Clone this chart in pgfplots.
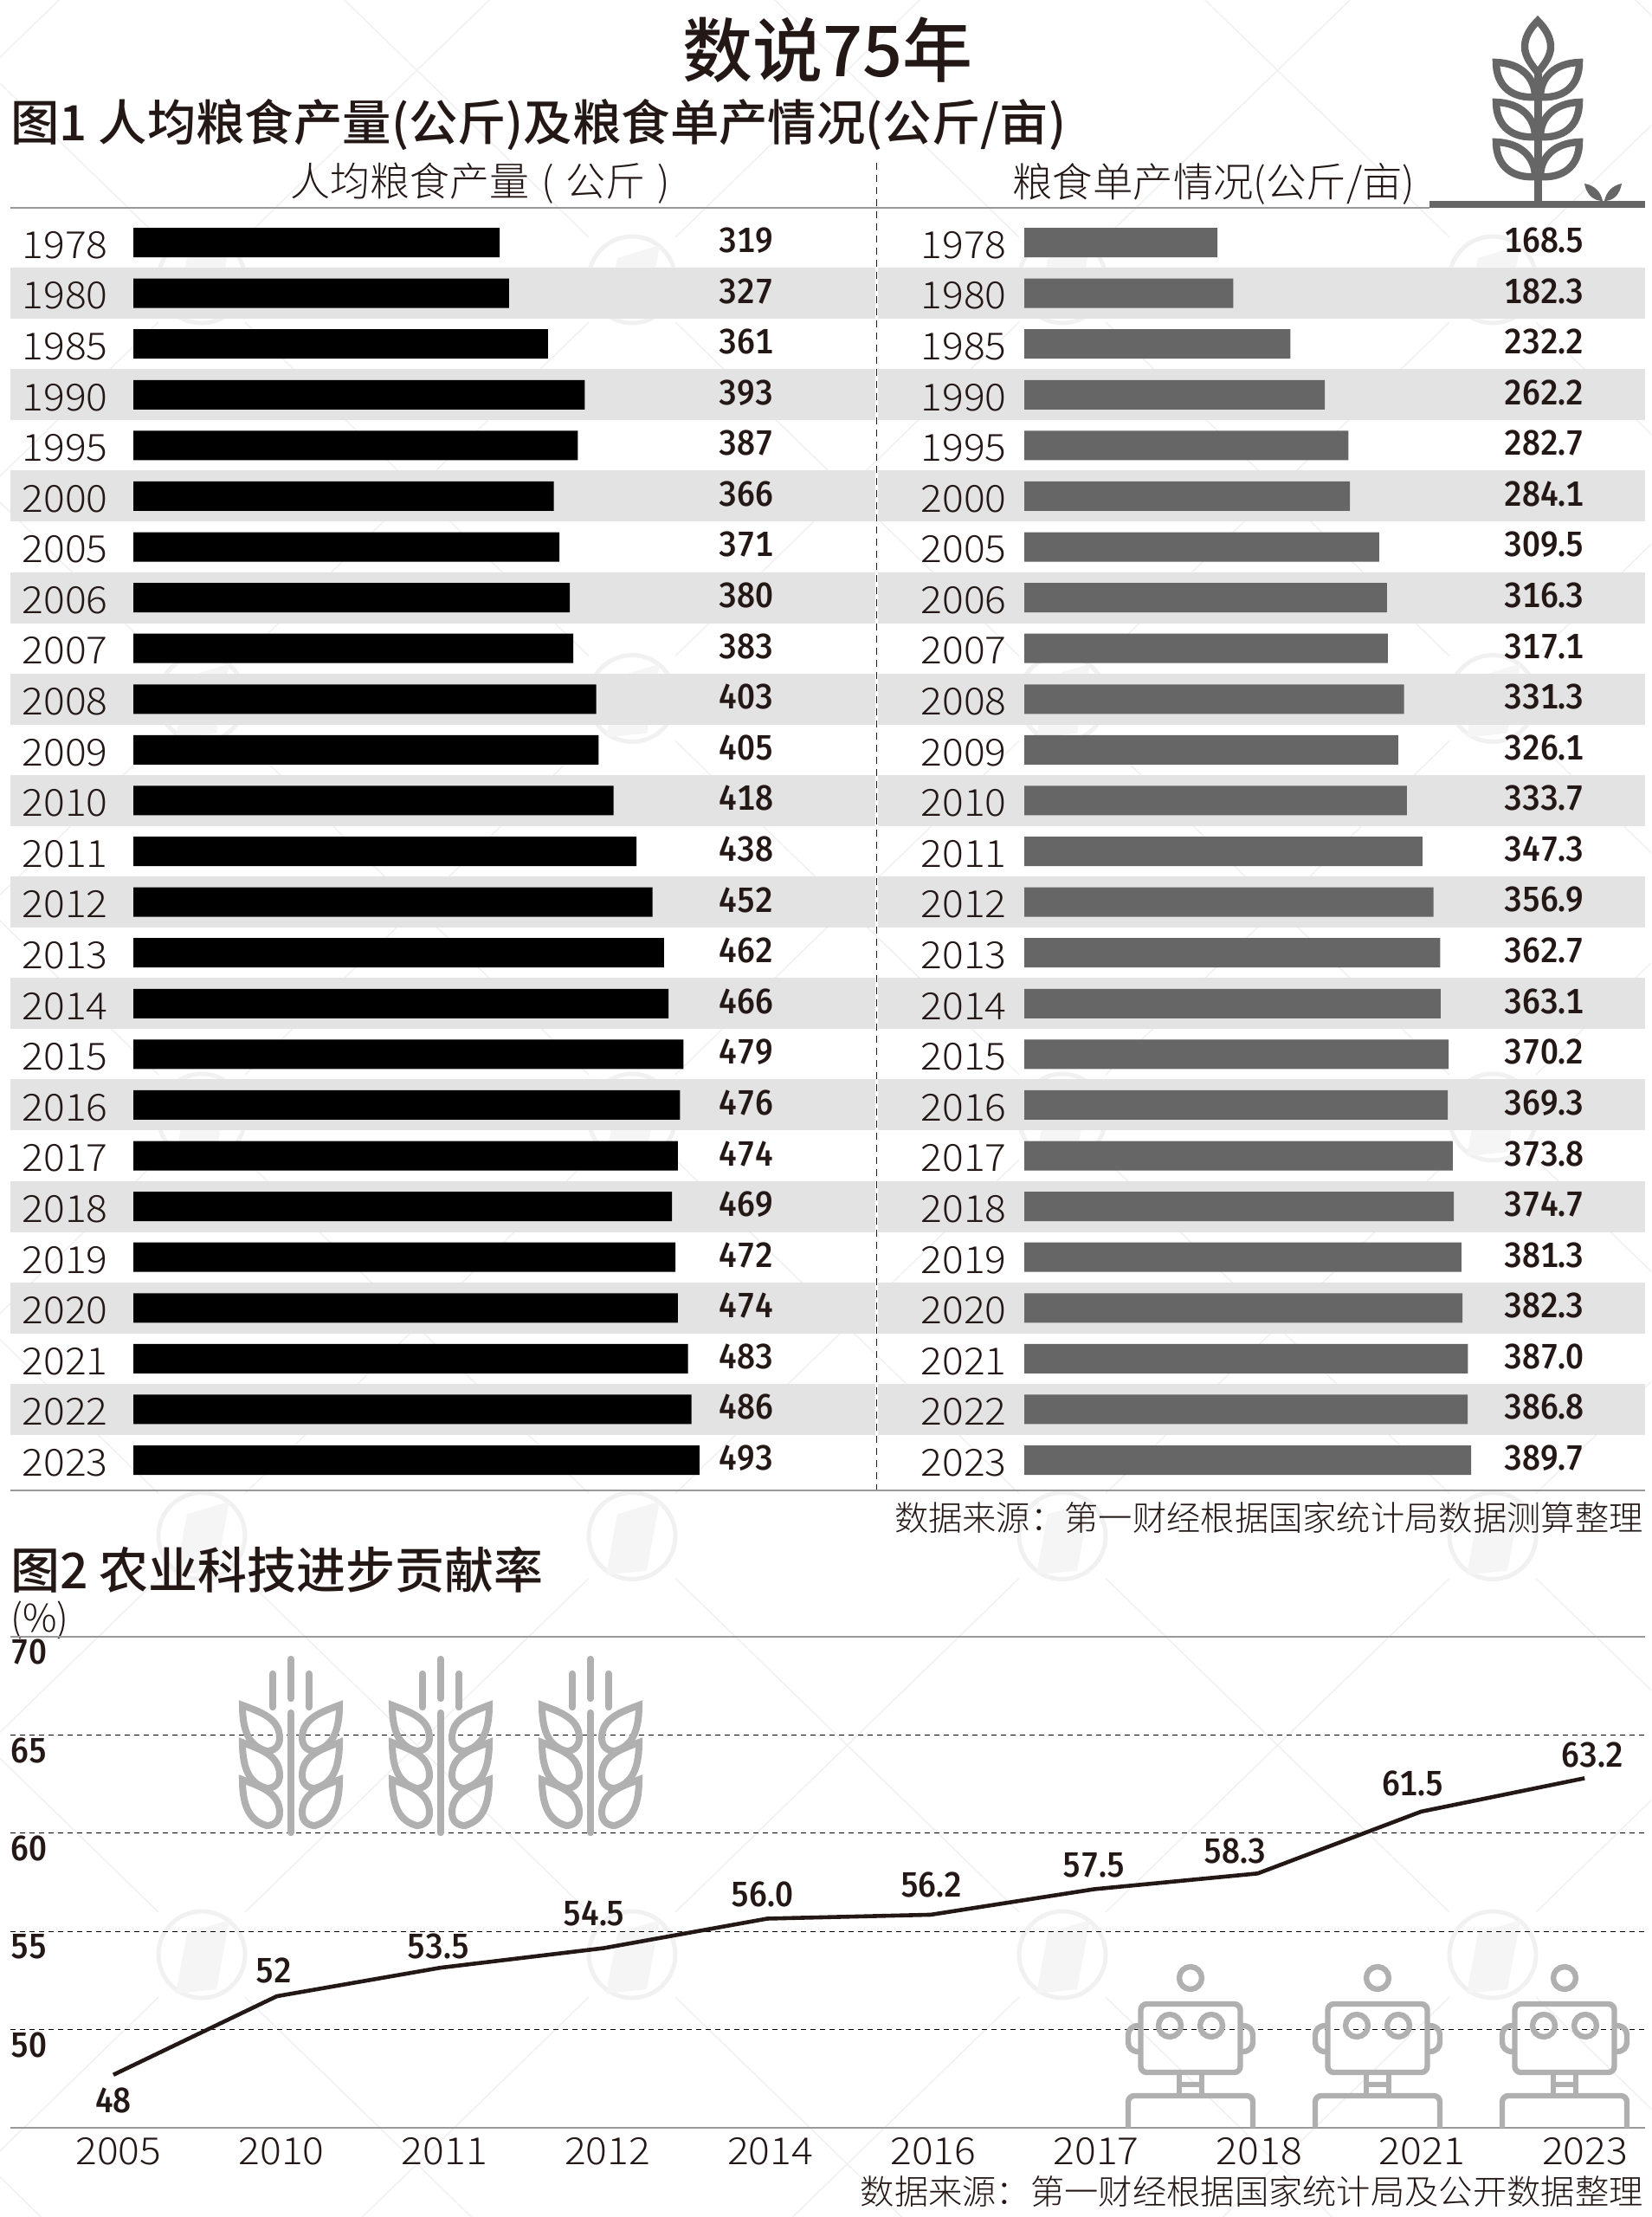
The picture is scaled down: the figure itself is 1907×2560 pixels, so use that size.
\documentclass[border=0pt]{standalone}
\usepackage{fontspec}
\usepackage{pgfplots}
\usepackage{pgfplotstable}
\pgfplotsset{compat=1.18}
\setmainfont{Noto Sans CJK SC}
\newfontfamily\heavy{Noto Sans CJK SC Medium}
\newfontfamily\light{Noto Sans CJK SC Light}
\newfontfamily\lightnum[FakeStretch=1.07]{Noto Sans CJK SC Light}
\newfontfamily\din[FakeStretch=0.92,Numbers=Monospaced]{Fira Sans Medium}
\definecolor{ink}{HTML}{231815}
\definecolor{band}{HTML}{E3E3E3}
\definecolor{mid}{HTML}{666666}
\definecolor{icon}{HTML}{B0B0B0}
\definecolor{wm}{HTML}{F1F1F1}
\definecolor{wmfill}{HTML}{F5F5F5}
\definecolor{rule}{HTML}{999999}
% 1 reference pixel = 0.5pt
\tikzset{px/.style={x=.5pt,y=-.5pt},txt/.style={inner sep=0pt,text=ink}}

\pgfplotstableread{
row year perhead yield
0 1978 319 168.5
1 1980 327 182.3
2 1985 361 232.2
3 1990 393 262.2
4 1995 387 282.7
5 2000 366 284.1
6 2005 371 309.5
7 2006 380 316.3
8 2007 383 317.1
9 2008 403 331.3
10 2009 405 326.1
11 2010 418 333.7
12 2011 438 347.3
13 2012 452 356.9
14 2013 462 362.7
15 2014 466 363.1
16 2015 479 370.2
17 2016 476 369.3
18 2017 474 373.8
19 2018 469 374.7
20 2019 472 381.3
21 2020 474 382.3
22 2021 483 387.0
23 2022 486 386.8
24 2023 493 389.7
}\grain

\newcommand\wheatleaf{%
  \draw[icon,line width=4pt,line join=miter] (56,1969) .. controls (35,1977) and (13,1984) .. (13,2007)
    .. controls (13,2017) and (20,2022) .. (28,2022) .. controls (45,2017) and (56,2004) .. (56,1969) -- cycle;}
\newcommand\wheat[1]{%
  \begin{scope}[shift={(#1,0)}]
    \draw[icon,line width=4.2pt,line cap=round] (0,1978)--(0,2116) (0,1916)--(0,1961) (-21,1933)--(-21,1971) (21,1933)--(21,1971);
    \foreach \d in {0,43,86} {
      \begin{scope}[yshift=-\d*.5pt]\wheatleaf\end{scope}
      \begin{scope}[xscale=-1,yshift=-\d*.5pt]\wheatleaf\end{scope}
    }
  \end{scope}}
\newcommand\robotear{%
  \draw[icon,line width=3.2pt] (60,2339) .. controls (68,2339) and (72,2344) .. (72,2350) -- (72,2358) .. controls (72,2364) and (68,2369) .. (60,2369);}
\newcommand\robot[1]{%
  \begin{scope}[shift={(#1,0)},icon,line width=3.2pt]
    \draw (0,2284) circle[radius=6.5pt];
    \draw[rounded corners=3.5pt] (-57.5,2314) rectangle (57.5,2393);
    \draw (-24,2339) circle[radius=6.5pt] (24,2339) circle[radius=6.5pt];
    \robotear
    \begin{scope}[xscale=-1]\robotear\end{scope}
    \draw (-13,2393)--(-13,2420) (13,2393)--(13,2420) (-13,2407)--(13,2407);
    \draw[rounded corners=3.5pt] (-72,2457)--(-72,2420)--(72,2420)--(72,2457);
  \end{scope}}
\newcommand\bigleaf{%
  \draw[mid,line width=4.2pt,line join=miter] (1779,112) .. controls (1779,90) and (1795,73) .. (1824,72) .. controls (1824,100) and (1805,114) .. (1779,112) -- cycle;}

\begin{document}
\begin{tikzpicture}
\begin{scope}[px]
  \path[use as bounding box] (0,0) rectangle (1907,2560);
  % watermark lattice
  \begin{scope}
    \clip (0,0) rectangle (1907,2560);
    \foreach \i in {-1,...,4} \foreach \j in {-1,...,5} {
      \pgfmathsetmacro\cx{233+497*\i}
      \pgfmathsetmacro\cy{323+483.5*\j}
      \foreach \sx/\sy in {1/1,1/-1,-1/1,-1/-1}
        \draw[wm,line width=.8pt] ({\cx+\sx*50},{\cy+\sy*49}) -- ({\cx+\sx*248.5},{\cy+\sy*241.75});
      \draw[wm,line width=2.5pt] (\cx,\cy) circle[radius=25pt];
      \fill[wmfill] (\cx-17,\cy-25) -- (\cx+32,\cy-40) -- (\cx+17,\cy+40) -- (\cx-30,\cy+45) -- cycle;
    }
  \end{scope}
  % row bands
  \foreach \r in {1,3,...,23} {
    \fill[band] (12,{280+58.58*\r-29.5}) rectangle (1011,{280+58.58*\r+29.5});
    \fill[band] (1014,{280+58.58*\r-29.5}) rectangle (1900,{280+58.58*\r+29.5});
  }
  \draw[rule,line width=.7pt] (12,240)--(1651,240) (12,1721)--(1900,1721);
  \draw[ink,line width=.5pt,dash pattern=on 4pt off 3pt] (1012,188)--(1012,1720);
  % titles
  \node[txt,font=\heavy\fontsize{40.5}{40.5}\selectfont] at (956,58) {数说75年};
  \node[txt,anchor=west,font=\heavy\fontsize{28.2}{28.2}\selectfont] at (12,144) {图1 人均粮食产量(公斤)及粮食单产情况(公斤/亩)};
  \node[txt,anchor=west,font=\light\fontsize{23}{23}\selectfont] at (335,212) {人均粮食产量\hspace{7pt}(\hspace{7pt}公斤\hspace{7pt})};
  \node[txt,anchor=west,font=\light\fontsize{23.2}{23.2}\selectfont] at (1169,212) {粮食单产情况(公斤/亩)};
  \node[txt,anchor=east,font=\light\fontsize{19.65}{19.65}\selectfont] at (1898,1753) {数据来源：第一财经根据国家统计局数据测算整理};
  \node[txt,anchor=west,font=\heavy\fontsize{28.5}{28.5}\selectfont] at (12,1813) {图2 农业科技进步贡献率};
  \node[txt,anchor=west,font=\light\fontsize{22}{22}\selectfont] at (12,1871) {(\%)};
  \node[txt,anchor=east,font=\light\fontsize{19.65}{19.65}\selectfont] at (1898,2531) {数据来源：第一财经根据国家统计局及公开数据整理};
  % plant at top right
  \fill[mid] (1651,232) rectangle (1900,240);
  \draw[mid,line width=4.5pt] (1776,85)--(1776,232);
  \draw[mid,line width=4.2pt,line join=miter] (1776,24) .. controls (1766,34) and (1761,44) .. (1761,54) .. controls (1761,66) and (1770,76) .. (1776,84) .. controls (1782,76) and (1791,66) .. (1791,54) .. controls (1791,44) and (1786,34) .. (1776,24) -- cycle;
  \foreach \d in {0,46,92} {
    \begin{scope}[yshift=-\d*.5pt]\bigleaf\end{scope}
    \begin{scope}[shift={(3552,0)},xscale=-1,yshift=-\d*.5pt]\bigleaf\end{scope}
  }
  \fill[mid] (1851,232) .. controls (1849,222) and (1842,214) .. (1830,212) .. controls (1832,224) and (1840,232) .. (1851,232) -- cycle;
  \fill[mid] (1853,232) .. controls (1855,222) and (1862,214) .. (1873,212) .. controls (1871,224) and (1864,232) .. (1853,232) -- cycle;
\end{scope}

% per head output
\begin{axis}[
  at={(77pt,-125.35pt)}, anchor=north west,
  scale only axis, width=429pt, height=732.3pt,
  xmin=0, xmax=646.8, ymin=-0.5, ymax=24.5, y dir=reverse,
  axis line style={draw=none}, tick style={draw=none},
  xtick=\empty, ytick=data, yticklabels from table={\grain}{year},
  yticklabel style={font=\lightnum\fontsize{21.6}{21.6}\selectfont, text=ink, anchor=east, inner sep=0pt, xshift=-14.5pt, yshift=-1.5pt},
  clip=false
]
  \addplot[xbar, bar shift=0pt, bar width=17pt, fill=black, draw=none] table[x=perhead, y=row] {\grain};
  \addplot[draw=none, mark=none, nodes near coords, point meta=explicit symbolic,
    nodes near coords style={anchor=center, inner sep=0pt, yshift=1.25pt, text=ink, font=\din\fontsize{20.3}{20.3}\selectfont}]
    table[x expr=533.7, y=row, meta=perhead] {\grain};
\end{axis}

% yield per mu
\begin{axis}[
  at={(591.5pt,-125.35pt)}, anchor=north west,
  scale only axis, width=358.5pt, height=732.3pt,
  xmin=0, xmax=541.5, ymin=-0.5, ymax=24.5, y dir=reverse,
  axis line style={draw=none}, tick style={draw=none},
  xtick=\empty, ytick=data, yticklabels from table={\grain}{year},
  yticklabel style={font=\lightnum\fontsize{21.6}{21.6}\selectfont, text=ink, anchor=east, inner sep=0pt, xshift=-10pt, yshift=-1.5pt},
  clip=false
]
  \addplot[xbar, bar shift=0pt, bar width=17pt, fill=mid, draw=none] table[x=yield, y=row] {\grain};
  \addplot[draw=none, mark=none, nodes near coords, point meta=explicit symbolic,
    nodes near coords style={anchor=center, inner sep=0pt, yshift=1.25pt, text=ink, font=\din\fontsize{20.3}{20.3}\selectfont}]
    table[x expr=453.5, y=row, meta=yield] {\grain};
\end{axis}

% contribution of farm technology
\begin{axis}[
  at={(6pt,-945pt)}, anchor=north west,
  scale only axis, width=944pt, height=283.5pt,
  xmin=-0.63, xmax=9.37, ymin=45, ymax=70,
  axis line style={draw=none}, tick style={draw=none},
  xtick={0,0.997,1.994,2.99,3.987,4.984,5.981,6.978,7.974,8.971},
  xticklabels={2005,2010,2011,2012,2014,2016,2017,2018,2021,2023},
  xticklabel style={font=\lightnum\fontsize{21.6}{21.6}\selectfont, text=ink, anchor=center, inner sep=0pt, xshift=3pt, yshift=-13.5pt},
  ytick={50,55,60,65}, extra y ticks={70}, extra y tick style={grid=none},
  /pgf/number format/assume math mode=true,
  yticklabel style={font=\din\fontsize{20.3}{20.3}\selectfont, text=ink, anchor=west, inner sep=0pt, yshift=-9pt},
  ymajorgrids, grid style={black, line width=.5pt, dash pattern=on 3pt off 2.5pt},
  clip=false
]
  \addplot[ink, line width=2.3pt, line join=round, mark=none] coordinates {
    (0,47.7) (1,51.7) (2,53.15) (3,54.15) (4,55.65) (5,55.85) (6,57.15) (7,57.95) (8,61.1) (9,62.8)
  };
  \addplot[draw=none, mark=none, nodes near coords, point meta=explicit symbolic,
    nodes near coords style={anchor=center, inner sep=0pt, text=ink, font=\din\fontsize{20.3}{20.3}\selectfont}]
    table[x=x, y=y, meta=lab] {
x y lab
0 46.37 48
0.985 53.0 52
1.99 54.22 53.5
2.94 55.93 54.5
3.97 56.9 56.0
5.005 57.39 56.2
6.0 58.36 57.5
6.86 59.09 58.3
7.95 62.55 61.5
9.05 64.0 63.2
  };
\end{axis}

\begin{scope}[px]
  \draw[rule,line width=.7pt] (12,1890)--(1900,1890) (12,2457)--(1900,2457);
  \wheat{336}\wheat{509}\wheat{682}
  \robot{1375}\robot{1591}\robot{1807}
\end{scope}
\end{tikzpicture}
\end{document}
